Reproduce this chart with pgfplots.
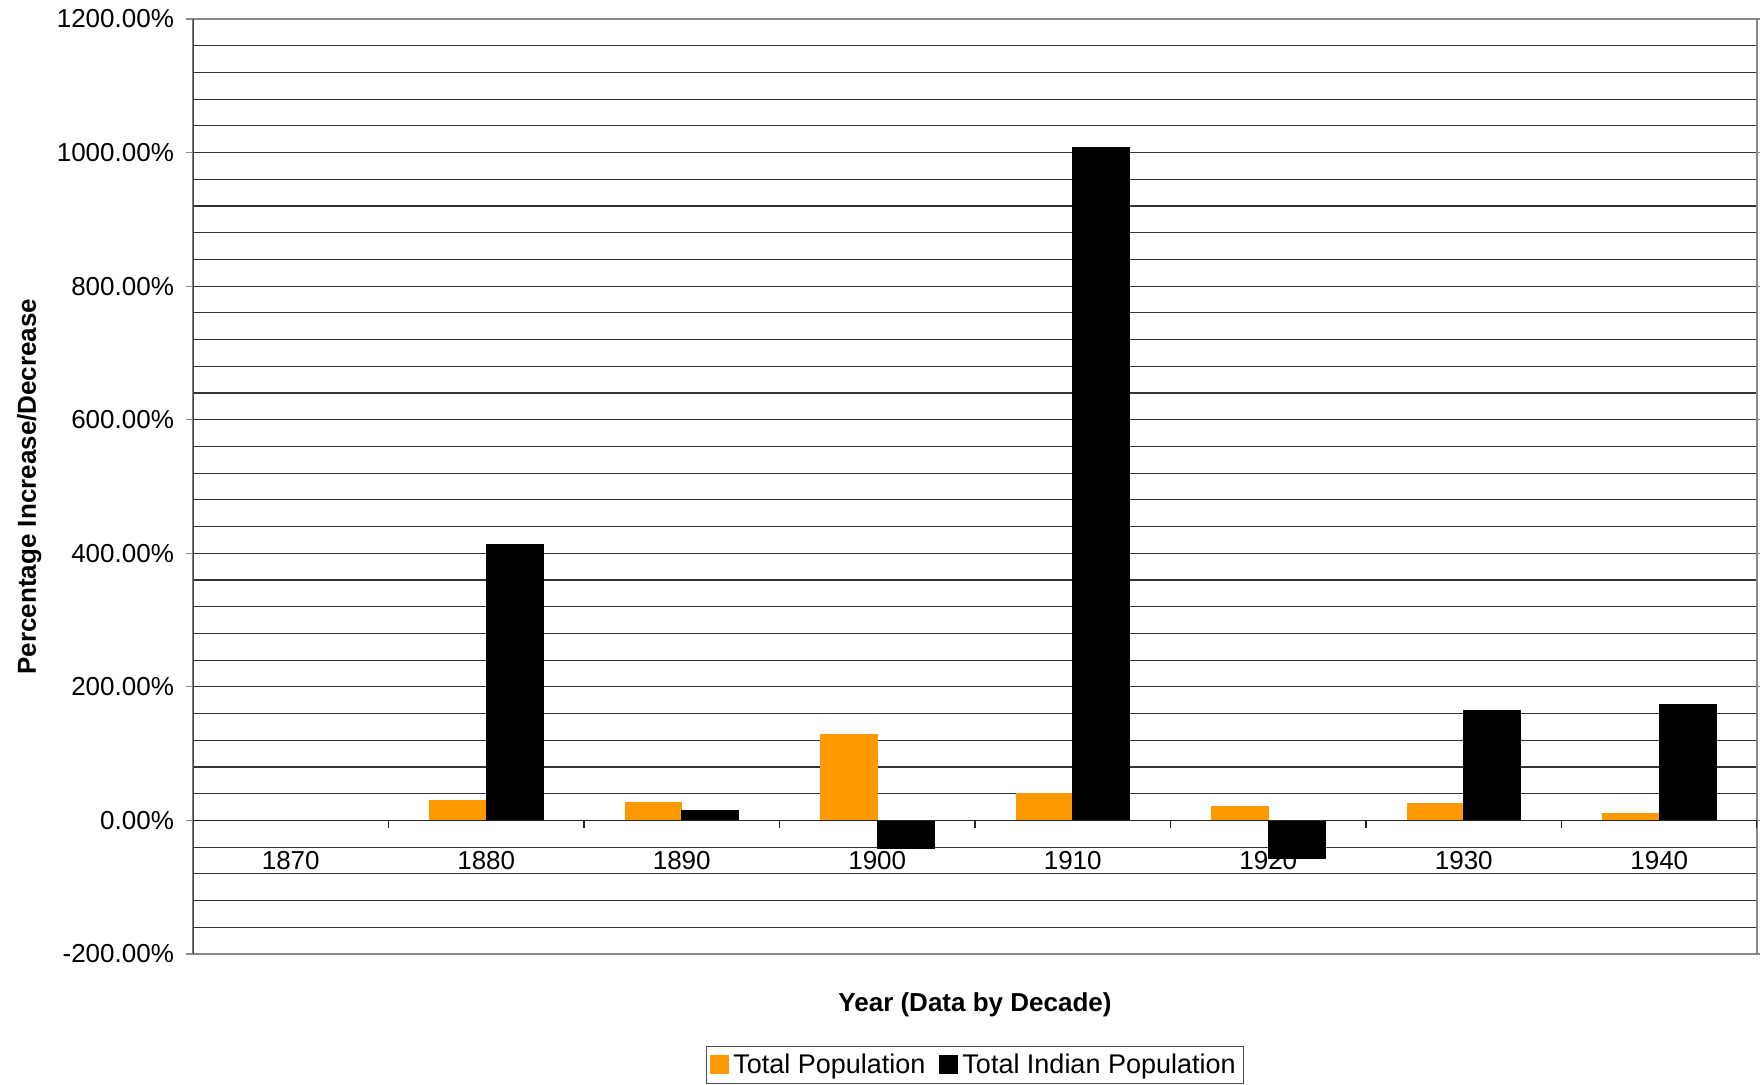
\documentclass[border=0pt]{standalone}
\usepackage{fontspec}
\setmainfont{Liberation Sans}
\usepackage{pgfplots}
\pgfplotsset{compat=1.18}

\definecolor{popOrange}{HTML}{FF9900}
\definecolor{gridGray}{HTML}{333333}
\definecolor{frameGray}{HTML}{888888}

% Percentage change per decade
\pgfplotstableread{
x  year  total  indian
1  1880  30     413
2  1890  27     15
3  1900  129    -41.5
4  1910  40     1008
5  1920  21     -57
6  1930  26     164
7  1940  10.5   174
}\changetable

\begin{document}
\begin{tikzpicture}
\begin{axis}[
  set layers,
  scale only axis,
  width=782pt, height=467.5pt,
  xmin=-0.5, xmax=7.5,
  ymin=-200, ymax=1200,
  enlargelimits=false,
  ybar=0pt, bar width=0.29,
  xtick={0,1,...,7},
  xticklabels={1870,1880,1890,1900,1910,1920,1930,1940},
  xtick style={draw=none},
  xticklabel style={anchor=center, yshift=50pt},
  ytick={-200,0,...,1200},
  minor y tick num=4,
  ymajorgrids, yminorgrids,
  major grid style={gridGray, line width=0.55pt},
  minor grid style={gridGray, line width=0.55pt},
  ytick style={frameGray, line width=0.6pt},
  major tick length=3.5pt,
  minor tick length=0pt,
  tick align=outside,
  /pgf/number format/1000 sep={},
  /pgf/number format/assume math mode=true,
  yticklabel={\pgfmathprintnumber[fixed,fixed zerofill,precision=2]{\tick}\%},
  yticklabel style={xshift=-2.5pt},
  ticklabel style={font=\fontsize{13}{15}\selectfont},
  axis line style={frameGray, line width=0.6pt},
  xlabel={Year (Data by Decade)},
  ylabel={Percentage Increase/Decrease},
  xlabel style={font=\fontsize{13}{15}\selectfont\bfseries, at={(axis description cs:0.5,-0.054)}, anchor=center},
  ylabel style={font=\fontsize{13}{15}\selectfont\bfseries, at={(axis description cs:-0.1047,0.5)}, anchor=center},
  legend style={at={(axis description cs:0.5,-0.1187)}, anchor=center,
    legend columns=2, draw=black!70, line width=0.5pt,
    font=\fontsize{13.5}{16}\selectfont,
    inner xsep=2pt, inner ysep=1.5pt,
    /tikz/every even column/.append style={column sep=5pt}},
  legend image code/.code={\fill[#1] (0pt,-4.5pt) rectangle (9pt,4.5pt);},
]
\addplot[fill=popOrange, draw=popOrange] table[x=x, y=total] {\changetable};
\addplot[fill=black, draw=black] table[x=x, y=indian] {\changetable};
\legend{Total Population, Total Indian Population}

% darker value axis and the category axis at zero with its dividers
\draw[black!75, line width=0.7pt] (rel axis cs:0,0) -- (rel axis cs:0,1);
\draw[black!85, line width=0.6pt] (axis cs:-0.5,0) -- (axis cs:7.5,0);
\pgfplotsinvokeforeach{0.5,1.5,2.5,3.5,4.5,5.5,6.5,7.5}{
  \draw[black!85, line width=0.6pt] (axis cs:#1,0) -- ++(0pt,-4pt);
}
\end{axis}
% page frame around the axis and its labels
\pgfresetboundingbox
\path ([shift={(-96.5pt,-65.5pt)}]current axis.south west) rectangle ([shift={(1.5pt,9.5pt)}]current axis.north east);
\end{tikzpicture}
\end{document}
